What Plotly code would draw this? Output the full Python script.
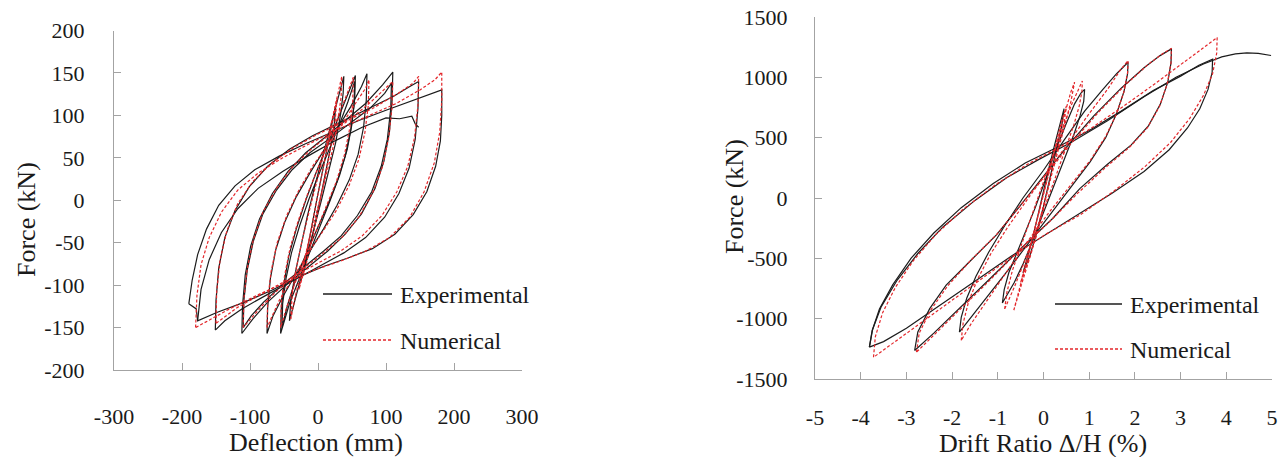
import plotly.graph_objects as go

# ---------------- data ----------------
# Left panel: Deflection (mm) vs Force (kN); each loop is a list of (x, y) points
defl_exp_loops = [
    [(-25,-95),(-18,-68),(-10,-35),(-2,0),(6,32),(14,62),(20,88),(26,112),(24,90),(18,60),(10,28),(2,-5),(-6,-35),(-14,-62),(-20,-80),(-25,-95)],
    [(-42,-142),(-40,-118),(-34,-88),(-26,-56),(-16,-20),(-5,16),(6,50),(17,84),(27,114),(34,134),(38,146),(37,126),(33,100),(26,68),(16,34),(5,0),(-6,-34),(-17,-66),(-27,-96),(-35,-120),(-42,-142)],
    [(-55,-157),(-54,-128),(-50,-98),(-43,-66),(-32,-34),(-18,0),(-4,30),(10,58),(25,88),(40,118),(50,138),(55,147),(54,120),(50,90),(43,60),(32,30),(18,0),(3,-30),(-12,-60),(-28,-92),(-42,-122),(-55,-157)],
    [(-53,-150),(-52,-122),(-47,-92),(-39,-62),(-27,-30),(-13,2),(1,30),(16,58),(31,88),(44,116),(52,136),(54,140),(53,112),(48,82),(40,52),(28,22),(13,-8),(-3,-36),(-19,-66),(-34,-96),(-45,-124),(-53,-150)],
    [(-75,-157),(-74,-126),(-70,-92),(-62,-58),(-49,-26),(-32,4),(-12,32),(8,58),(28,84),(48,110),(64,134),(72,149),(71,118),(67,86),(59,54),(46,24),(28,-6),(8,-34),(-12,-60),(-32,-86),(-52,-114),(-66,-136),(-75,-157)],
    [(-112,-157),(-111,-124),(-107,-88),(-99,-54),(-86,-22),(-67,8),(-44,34),(-18,56),(10,74),(40,94),(70,114),(95,136),(110,151),(109,118),(105,80),(97,46),(84,14),(64,-16),(40,-40),(14,-60),(-14,-78),(-44,-98),(-74,-120),(-96,-140),(-112,-157)],
    [(-110,-150),(-109,-118),(-104,-82),(-95,-48),(-81,-16),(-61,12),(-38,36),(-12,56),(16,72),(46,90),(76,108),(98,126),(108,138),(107,108),(102,72),(93,40),(79,10),(58,-18),(34,-42),(8,-60),(-20,-78),(-50,-98),(-80,-120),(-98,-136),(-110,-150)],
    [(-151,-153),(-150,-118),(-146,-80),(-137,-44),(-122,-12),(-101,16),(-74,40),(-42,60),(-8,76),(28,90),(70,106),(110,122),(135,134),(148,140),(147,108),(143,72),(134,38),(119,8),(98,-20),(70,-44),(38,-62),(5,-77),(-30,-92),(-72,-110),(-112,-128),(-137,-142),(-151,-153)],
    [(-190,-122),(-185,-94),(-177,-64),(-164,-34),(-146,-6),(-122,17),(-93,36),(-57,52),(-20,66),(20,80),(60,94),(100,106),(140,118),(168,126),(182,130),(182,100),(180,70),(173,40),(160,10),(140,-17),(113,-40),(80,-57),(44,-68),(8,-78),(-28,-90),(-68,-106),(-108,-120),(-148,-132),(-177,-142),(-179,-128),(-190,-122)],
    [(-177,-142),(-172,-105),(-160,-70),(-142,-38),(-118,-10),(-88,14),(-52,34),(-15,52),(25,70),(65,86),(100,97),(120,96),(138,99),(143,90),(148,86)],
]
defl_num_loops = [
    [(-28,-105),(-20,-75),(-12,-42),(-3,-5),(6,30),(14,62),(22,95),(28,120),(25,92),(18,60),(10,26),(1,-10),(-8,-42),(-17,-74),(-28,-105)],
    [(-40,-140),(-38,-112),(-32,-80),(-23,-46),(-12,-10),(0,26),(11,62),(21,96),(30,126),(35,146),(34,122),(29,92),(21,58),(10,22),(-2,-14),(-14,-50),(-25,-84),(-33,-112),(-40,-140)],
    [(-55,-150),(-54,-120),(-49,-88),(-41,-56),(-29,-24),(-15,8),(0,38),(14,66),(29,96),(42,124),(52,145),(51,116),(47,86),(39,54),(27,22),(12,-8),(-4,-38),(-20,-70),(-35,-100),(-46,-126),(-55,-150)],
    [(-75,-150),(-74,-118),(-69,-84),(-60,-50),(-46,-18),(-28,12),(-8,40),(13,64),(34,88),(55,114),(70,132),(75,142),(74,112),(69,80),(60,48),(46,18),(27,-12),(6,-38),(-16,-64),(-37,-92),(-57,-118),(-75,-150)],
    [(-110,-150),(-109,-116),(-104,-80),(-95,-46),(-81,-14),(-61,14),(-37,40),(-10,60),(18,78),(48,96),(78,116),(100,132),(110,140),(109,110),(104,74),(95,40),(81,10),(60,-20),(35,-44),(8,-62),(-20,-80),(-52,-100),(-82,-124),(-110,-150)],
    [(-150,-145),(-149,-108),(-144,-70),(-134,-36),(-118,-4),(-96,22),(-68,44),(-36,62),(0,78),(38,92),(80,108),(118,126),(140,138),(148,146),(147,112),(142,74),(132,40),(116,10),(94,-18),(65,-42),(33,-60),(0,-74),(-36,-90),(-78,-108),(-118,-126),(-150,-145)],
    [(-180,-150),(-178,-112),(-172,-76),(-160,-44),(-142,-14),(-118,12),(-88,32),(-52,50),(-14,66),(25,82),(70,98),(115,114),(150,130),(172,142),(182,151),(182,118),(179,80),(171,44),(156,10),(135,-20),(105,-44),(70,-60),(32,-72),(-5,-82),(-45,-96),(-90,-112),(-130,-128),(-162,-142),(-180,-150)],
]

# Right panel: Drift ratio (%) vs Force (kN)
drift_exp_loops = [
    [(-0.45,-620),(-0.32,-450),(-0.18,-240),(-0.05,-20),(0.1,220),(0.25,450),(0.38,640),(0.45,740),(0.4,600),(0.28,400),(0.14,160),(0,-70),(-0.15,-290),(-0.3,-480),(-0.45,-620)],
    [(-0.9,-870),(-0.86,-760),(-0.76,-620),(-0.6,-470),(-0.4,-290),(-0.18,-80),(0.05,160),(0.28,410),(0.5,620),(0.68,780),(0.82,870),(0.9,900),(0.88,800),(0.8,680),(0.66,520),(0.46,330),(0.24,120),(0,-120),(-0.22,-340),(-0.44,-540),(-0.64,-700),(-0.8,-800),(-0.9,-870)],
    [(-1.84,-1111),(-1.8,-990),(-1.68,-830),(-1.48,-650),(-1.2,-450),(-0.85,-230),(-0.45,0),(0,230),(0.45,480),(0.9,720),(1.3,900),(1.6,1030),(1.85,1125),(1.84,1030),(1.76,880),(1.6,700),(1.36,500),(1.02,300),(0.6,90),(0.15,-130),(-0.3,-360),(-0.78,-600),(-1.2,-800),(-1.55,-970),(-1.84,-1111)],
    [(-2.82,-1264),(-2.75,-1111),(-2.49,-917),(-2.13,-722),(-1.62,-528),(-1.03,-306),(-0.5,-60),(0,180),(0.5,420),(1.1,680),(1.7,910),(2.2,1080),(2.55,1180),(2.8,1236),(2.79,1120),(2.72,960),(2.56,780),(2.3,600),(1.92,440),(1.4,280),(0.8,80),(0.2,-170),(-0.5,-420),(-1.2,-680),(-1.85,-920),(-2.4,-1120),(-2.82,-1264)],
    [(-3.81,-1236),(-3.75,-1100),(-3.59,-920),(-3.3,-720),(-2.9,-500),(-2.4,-290),(-1.8,-80),(-1.1,120),(-0.4,290),(0.3,420),(1.0,560),(1.7,720),(2.4,890),(3.0,1010),(3.4,1100),(3.7,1150),(3.69,1040),(3.6,900),(3.42,740),(3.15,580),(2.75,400),(2.2,220),(1.5,40),(0.7,-150),(0.0,-310),(-0.7,-480),(-1.5,-690),(-2.3,-900),(-3.0,-1080),(-3.5,-1190),(-3.81,-1236)],
    [(-3.81,-1236),(-3.74,-1090),(-3.55,-900),(-3.2,-680),(-2.75,-460),(-2.2,-240),(-1.5,-20),(-0.8,170),(-0.1,320),(0.6,460),(1.4,640),(2.2,840),(2.9,1000),(3.5,1110),(3.9,1170),(4.2,1195),(4.45,1203),(4.7,1198),(4.98,1181)],
]
drift_num_loops = [
    [(-0.5,-700),(-0.35,-500),(-0.2,-270),(-0.05,-40),(0.1,200),(0.25,430),(0.4,640),(0.5,760),(0.45,620),(0.32,430),(0.18,200),(0.03,-40),(-0.12,-270),(-0.28,-470),(-0.5,-700)],
    [(-0.65,-930),(-0.5,-720),(-0.33,-470),(-0.15,-190),(0.05,110),(0.25,400),(0.45,680),(0.6,880),(0.68,960),(0.6,800),(0.45,580),(0.27,320),(0.08,40),(-0.12,-250),(-0.32,-520),(-0.5,-740),(-0.65,-930)],
    [(-0.85,-920),(-0.8,-780),(-0.68,-600),(-0.5,-400),(-0.28,-170),(-0.05,80),(0.2,350),(0.42,580),(0.62,780),(0.76,900),(0.85,970),(0.84,880),(0.78,760),(0.66,600),(0.48,400),(0.26,170),(0.02,-80),(-0.22,-330),(-0.45,-560),(-0.64,-740),(-0.85,-920)],
    [(-1.8,-1180),(-1.76,-1040),(-1.64,-860),(-1.44,-670),(-1.15,-460),(-0.78,-240),(-0.35,-10),(0.1,220),(0.55,460),(1.0,700),(1.4,900),(1.68,1060),(1.85,1139),(1.84,1040),(1.76,880),(1.6,700),(1.36,510),(1.02,310),(0.58,100),(0.12,-120),(-0.35,-360),(-0.82,-620),(-1.25,-850),(-1.58,-1040),(-1.8,-1180)],
    [(-2.78,-1278),(-2.72,-1120),(-2.47,-930),(-2.1,-730),(-1.6,-520),(-1.02,-300),(-0.48,-50),(0.05,190),(0.6,450),(1.2,710),(1.8,940),(2.3,1110),(2.62,1200),(2.8,1240),(2.79,1120),(2.71,950),(2.54,760),(2.27,580),(1.88,420),(1.35,250),(0.75,40),(0.15,-190),(-0.55,-440),(-1.25,-710),(-1.9,-950),(-2.42,-1140),(-2.78,-1278)],
    [(-3.72,-1320),(-3.68,-1150),(-3.52,-950),(-3.24,-740),(-2.85,-520),(-2.35,-300),(-1.75,-90),(-1.05,110),(-0.35,280),(0.35,420),(1.05,580),(1.75,760),(2.45,950),(3.05,1120),(3.5,1250),(3.8,1330),(3.79,1200),(3.7,1030),(3.5,850),(3.2,660),(2.78,460),(2.22,260),(1.55,60),(0.8,-140),(0.05,-300),(-0.7,-490),(-1.5,-710),(-2.3,-930),(-3.0,-1120),(-3.45,-1240),(-3.72,-1320)],
]

defl_xticks = [-300, -200, -100, 0, 100, 200, 300]
defl_xlabels = ["-300", "-200", "-100", "0", "100", "200", "300"]
force1_yticks = [-200, -150, -100, -50, 0, 50, 100, 150, 200]
force1_ylabels = ["-200", "-150", "-100", "-50", "0", "50", "100", "150", "200"]
drift_xticks = [-5, -4, -3, -2, -1, 0, 1, 2, 3, 4, 5]
drift_xlabels = ["-5", "-4", "-3", "-2", "-1", "0", "1", "2", "3", "4", "5"]
force2_yticks = [-1500, -1000, -500, 0, 500, 1000, 1500]
force2_ylabels = ["-1500", "-1000", "-500", "0", "500", "1000", "1500"]

series_names = ["Experimental", "Numerical"]

# ---------------- figure ----------------
W, H = 1280, 457
FONT = "Liberation Serif"
TXT = "#1a1a1a"
AX = "#a3a3a3"
BLACK = "#1c1c1c"
RED = "#e3262a"


def flatten(loops):
    xs, ys = [], []
    for lp in loops:
        for x, y in lp:
            xs.append(x)
            ys.append(y)
        xs.append(None)
        ys.append(None)
    return xs, ys


fig = go.Figure()
for loops, color, dash, ax in [
    (defl_exp_loops, BLACK, "solid", ("x", "y")),
    (defl_num_loops, RED, "3px,2px", ("x", "y")),
    (drift_exp_loops, BLACK, "solid", ("x2", "y2")),
    (drift_num_loops, RED, "3px,2px", ("x2", "y2")),
]:
    xs, ys = flatten(loops)
    fig.add_trace(go.Scatter(x=xs, y=ys, mode="lines", xaxis=ax[0], yaxis=ax[1],
                             line=dict(color=color, width=1.2, dash=dash),
                             showlegend=False, hoverinfo="skip"))


def px(x):
    return x / W


def py(y):
    return 1 - y / H


axis_common = dict(showline=True, linecolor=AX, linewidth=1, ticks="inside", ticklen=7,
                   tickcolor=AX, tickwidth=1, showgrid=False, zeroline=False,
                   tickfont=dict(family=FONT, size=22, color=TXT), automargin=False,
                   tickmode="array", ticklabeloverflow="allow")

fig.update_layout(
    width=W, height=H, margin=dict(l=0, r=0, t=0, b=0),
    paper_bgcolor="white", plot_bgcolor="white", showlegend=False,
    xaxis=dict(domain=[px(114), px(522)], range=[-300, 300], tickvals=defl_xticks,
               ticktext=defl_xlabels, anchor="y", ticklabelstandoff=27, **axis_common),
    yaxis=dict(domain=[py(370), py(30.5)], range=[-200, 200], tickvals=force1_yticks,
               ticktext=force1_ylabels, anchor="x", ticklabelstandoff=24, **axis_common),
    xaxis2=dict(domain=[px(815), px(1272)], range=[-5, 5], tickvals=drift_xticks,
                ticktext=drift_xlabels, anchor="y2", ticklabelstandoff=19, **axis_common),
    yaxis2=dict(domain=[py(379), py(17)], range=[-1500, 1500], tickvals=force2_yticks,
                ticktext=force2_ylabels, anchor="x2", ticklabelstandoff=22, **axis_common),
)

title_font = dict(family=FONT, size=26, color=TXT)
annots = [
    dict(text="Force (kN)", x=px(26), y=py(220), textangle=-90),
    dict(text="Deflection (mm)", x=px(316), y=py(442)),
    dict(text="Force (kN)", x=px(735), y=py(197), textangle=-90),
    dict(text="Drift Ratio \u0394/H (%)", x=px(1043), y=py(443)),
]
for a in annots:
    fig.add_annotation(xref="paper", yref="paper", showarrow=False, xanchor="center",
                       yanchor="middle", font=title_font, **a)

# legend keys (drawn as paper-space samples)
legend_pos = [((323, 392, 294), (323, 392, 340)), ((1055, 1122, 304), (1055, 1122, 349))]
for (e, n) in legend_pos:
    for (x0, x1, yy), name, color, dash in [(e, series_names[0], BLACK, "solid"),
                                            (n, series_names[1], RED, "3px,2px")]:
        fig.add_shape(type="line", xref="paper", yref="paper", x0=px(x0), x1=px(x1),
                      y0=py(yy), y1=py(yy), line=dict(color=color, width=1.3, dash=dash))
        fig.add_annotation(xref="paper", yref="paper", x=px(x1 + 6), y=py(yy + 1),
                           text=name, showarrow=False, xanchor="left", yanchor="middle",
                           font=dict(family=FONT, size=24, color=TXT))

# remove the browser's default 8px page margin so the figure fills the window exactly
fig.write_html("out.html", config={"displayModeBar": False, "staticPlot": True},
               post_script="document.body.style.margin='0px';")
